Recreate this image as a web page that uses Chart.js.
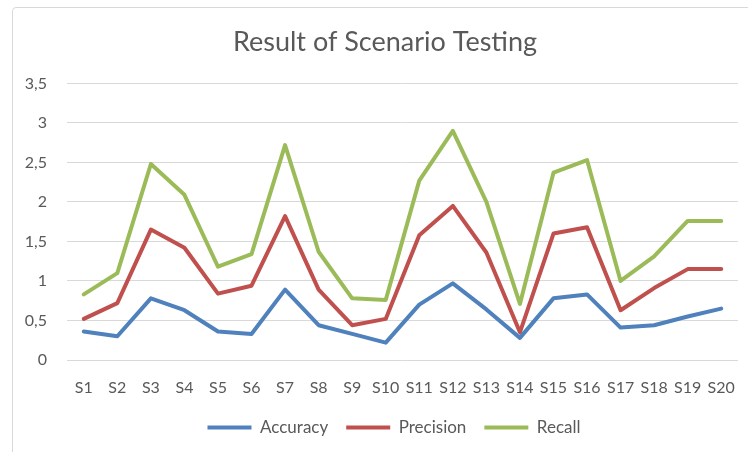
<!DOCTYPE html>
<html>
<head>
<meta charset="utf-8">
<script src="https://cdn.jsdelivr.net/npm/chart.js@4"></script>
<style>
  html, body { margin: 0; padding: 0; background: #fff; overflow: hidden; }
  #frame {
    position: absolute; left: 12px; top: 7px; width: 760px; height: 470px;
    border: 1px solid #d9d9d9; border-radius: 4px; box-sizing: border-box;
  }
  #wrap { position: absolute; left: 0; top: 0; width: 748px; height: 452px; }
</style>
</head>
<body>
<div id="frame"></div>
<div id="wrap"><canvas id="chart"></canvas></div>
<script>
// Scenario labels
const scenarios = ['S1','S2','S3','S4','S5','S6','S7','S8','S9','S10',
                   'S11','S12','S13','S14','S15','S16','S17','S18','S19','S20'];

// Values as plotted in the picture
const accuracy  = [0.36, 0.30, 0.78, 0.63, 0.36, 0.33, 0.89, 0.44, 0.33, 0.22,
                   0.70, 0.97, 0.64, 0.28, 0.78, 0.83, 0.41, 0.44, 0.55, 0.65];
const precision = [0.52, 0.72, 1.65, 1.42, 0.84, 0.94, 1.82, 0.89, 0.44, 0.52,
                   1.58, 1.95, 1.36, 0.35, 1.60, 1.68, 0.63, 0.91, 1.15, 1.15];
const recall    = [0.83, 1.10, 2.48, 2.09, 1.18, 1.34, 2.72, 1.37, 0.78, 0.76,
                   2.27, 2.90, 2.00, 0.71, 2.37, 2.53, 1.00, 1.31, 1.76, 1.76];

const yTicks = [0, 0.5, 1, 1.5, 2, 2.5, 3, 3.5];

const textColor = '#595959';
const fontFamily = 'Lato, "Open Sans", sans-serif';

function series(label, data, color) {
    return {
        label: label,
        data: data,
        borderColor: color,
        backgroundColor: color,
        borderWidth: 4,
        pointRadius: 0,
        pointHoverRadius: 0,
        tension: 0,
        borderJoinStyle: 'round',
        borderCapStyle: 'round'
    };
}

// Excel centres title and legend over the whole chart box, not the plot,
// so nudge them right a bit after layout
const shiftBlocks = {
    id: 'shiftBlocks',
    afterLayout(chart) {
        if (chart.titleBlock) {
            chart.titleBlock.left += 16;
            chart.titleBlock.right += 16;
        }
        if (chart.legend) {
            chart.legend.left += 25;
            chart.legend.right += 25;
        }
    }
};

const ctx = document.getElementById('chart').getContext('2d');
new Chart(ctx, {
    type: 'line',
    data: {
        labels: scenarios,
        datasets: [
            series('Accuracy', accuracy, '#4F81BD'),
            series('Precision', precision, '#C0504D'),
            series('Recall', recall, '#9BBB59')
        ]
    },
    plugins: [shiftBlocks],
    options: {
        responsive: true,
        maintainAspectRatio: false,
        animation: false,
        layout: { padding: { left: 0, right: 10, top: 0, bottom: 6 } },
        plugins: {
            title: {
                display: true,
                text: 'Result of Scenario Testing',
                color: textColor,
                font: { family: fontFamily, size: 27, weight: 'normal', lineHeight: 1.2 },
                padding: { top: 26, bottom: 25 }
            },
            legend: {
                position: 'bottom',
                labels: {
                    usePointStyle: true,
                    pointStyle: 'line',
                    pointStyleWidth: 44,
                    color: textColor,
                    font: { family: fontFamily, size: 17 },
                    padding: 18
                }
            },
            tooltip: { enabled: false }
        },
        scales: {
            x: {
                offset: true,
                grid: { display: false },
                border: { display: false },
                afterFit: scale => { scale.height = 41; },
                ticks: {
                    color: textColor,
                    font: { family: fontFamily, size: 16 },
                    padding: 10,
                    maxRotation: 0,
                    autoSkip: false
                }
            },
            y: {
                min: 0,
                max: 3.5,
                afterBuildTicks: scale => { scale.ticks = yTicks.map(v => ({ value: v })); },
                afterFit: scale => { scale.width = 67; },
                grid: { color: '#d9d9d9', lineWidth: 1, drawTicks: false },
                border: { display: false },
                ticks: {
                    color: textColor,
                    font: { family: fontFamily, size: 16 },
                    padding: 20,
                    callback: v => String(v).replace('.', ',')
                }
            }
        }
    }
});
</script>
</body>
</html>
